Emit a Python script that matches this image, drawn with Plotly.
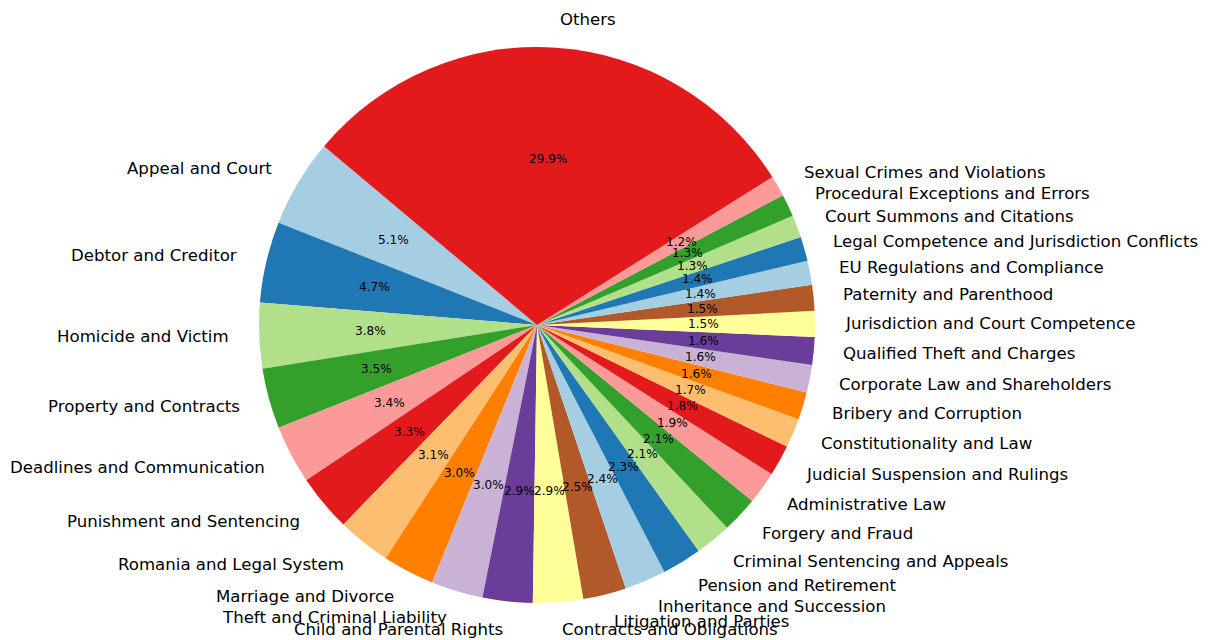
import math
import plotly.graph_objects as go

categories = [
    "Appeal and Court", "Debtor and Creditor", "Homicide and Victim",
    "Property and Contracts", "Deadlines and Communication",
    "Punishment and Sentencing", "Romania and Legal System",
    "Marriage and Divorce", "Theft and Criminal Liability",
    "Child and Parental Rights", "Contracts and Obligations",
    "Litigation and Parties", "Inheritance and Succession",
    "Pension and Retirement", "Criminal Sentencing and Appeals",
    "Forgery and Fraud", "Administrative Law",
    "Judicial Suspension and Rulings", "Constitutionality and Law",
    "Bribery and Corruption", "Corporate Law and Shareholders",
    "Qualified Theft and Charges", "Jurisdiction and Court Competence",
    "Paternity and Parenthood", "EU Regulations and Compliance",
    "Legal Competence and Jurisdiction Conflicts",
    "Court Summons and Citations", "Procedural Exceptions and Errors",
    "Sexual Crimes and Violations", "Others",
]
shares = [
    5.1, 4.7, 3.8, 3.5, 3.4, 3.3, 3.1, 3.0, 3.0, 2.9, 2.9, 2.5, 2.4, 2.3,
    2.1, 2.1, 1.9, 1.8, 1.7, 1.6, 1.6, 1.6, 1.5, 1.5, 1.4, 1.4, 1.3, 1.3,
    1.2, 29.9,
]
paired = ["#a6cee3", "#1f78b4", "#b2df8a", "#33a02c", "#fb9a99", "#e31a1c",
          "#fdbf6f", "#ff7f00", "#cab2d6", "#6a3d9a", "#ffff99", "#b15928"]
colors = [paired[i % len(paired)] for i in range(len(categories))]

# page body has an 8px margin, so the figure is drawn 8px in from the corner
OFF = 8
W, H = 1209 - OFF, 640 - OFF
CX, CY, R = 537 - OFF, 325 - OFF, 278
START = 140.0  # degrees, counterclockwise from 3 o'clock

total = sum(shares)
dom_x = [(CX - R) / W, (CX + R) / W]
dom_y = [(H - CY - R) / H, (H - CY + R) / H]

# plotly (counterclockwise) places the first slice's far edge at the rotation angle
rotation = 90 - (START + shares[0] / total * 360)

fig = go.Figure(go.Pie(
    labels=categories, values=shares, sort=False,
    direction="counterclockwise", rotation=rotation,
    marker=dict(colors=colors, line=dict(width=0)),
    textinfo="none", hoverinfo="label+percent",
    domain=dict(x=dom_x, y=dom_y), showlegend=False,
))

annotations = []
cum = 0.0
FONT = "DejaVu Sans"
for name, v in zip(categories, shares):
    frac = v / total
    mid = math.radians(START + (cum + frac / 2) * 360)
    cum += frac
    c, s = math.cos(mid), math.sin(mid)
    lx = (CX + 1.1 * R * c) / W
    ly = (H - CY + 1.1 * R * s) / H
    annotations.append(dict(
        x=lx, y=ly, xref="paper", yref="paper", text=name, showarrow=False,
        xanchor="left" if c >= 0 else "right", yanchor="middle",
        font=dict(family=FONT, size=16.6, color="black"),
    ))
    px = (CX + 0.6 * R * c) / W
    py = (H - CY + 0.6 * R * s) / H
    annotations.append(dict(
        x=px, y=py, xref="paper", yref="paper", text=f"{v:.1f}%",
        showarrow=False, xanchor="center", yanchor="middle",
        font=dict(family=FONT, size=12.1, color="black"),
    ))

fig.update_layout(
    width=W, height=H, margin=dict(l=0, r=0, t=0, b=0),
    paper_bgcolor="white", plot_bgcolor="white",
    annotations=annotations,
)
fig.write_html("out.html")
